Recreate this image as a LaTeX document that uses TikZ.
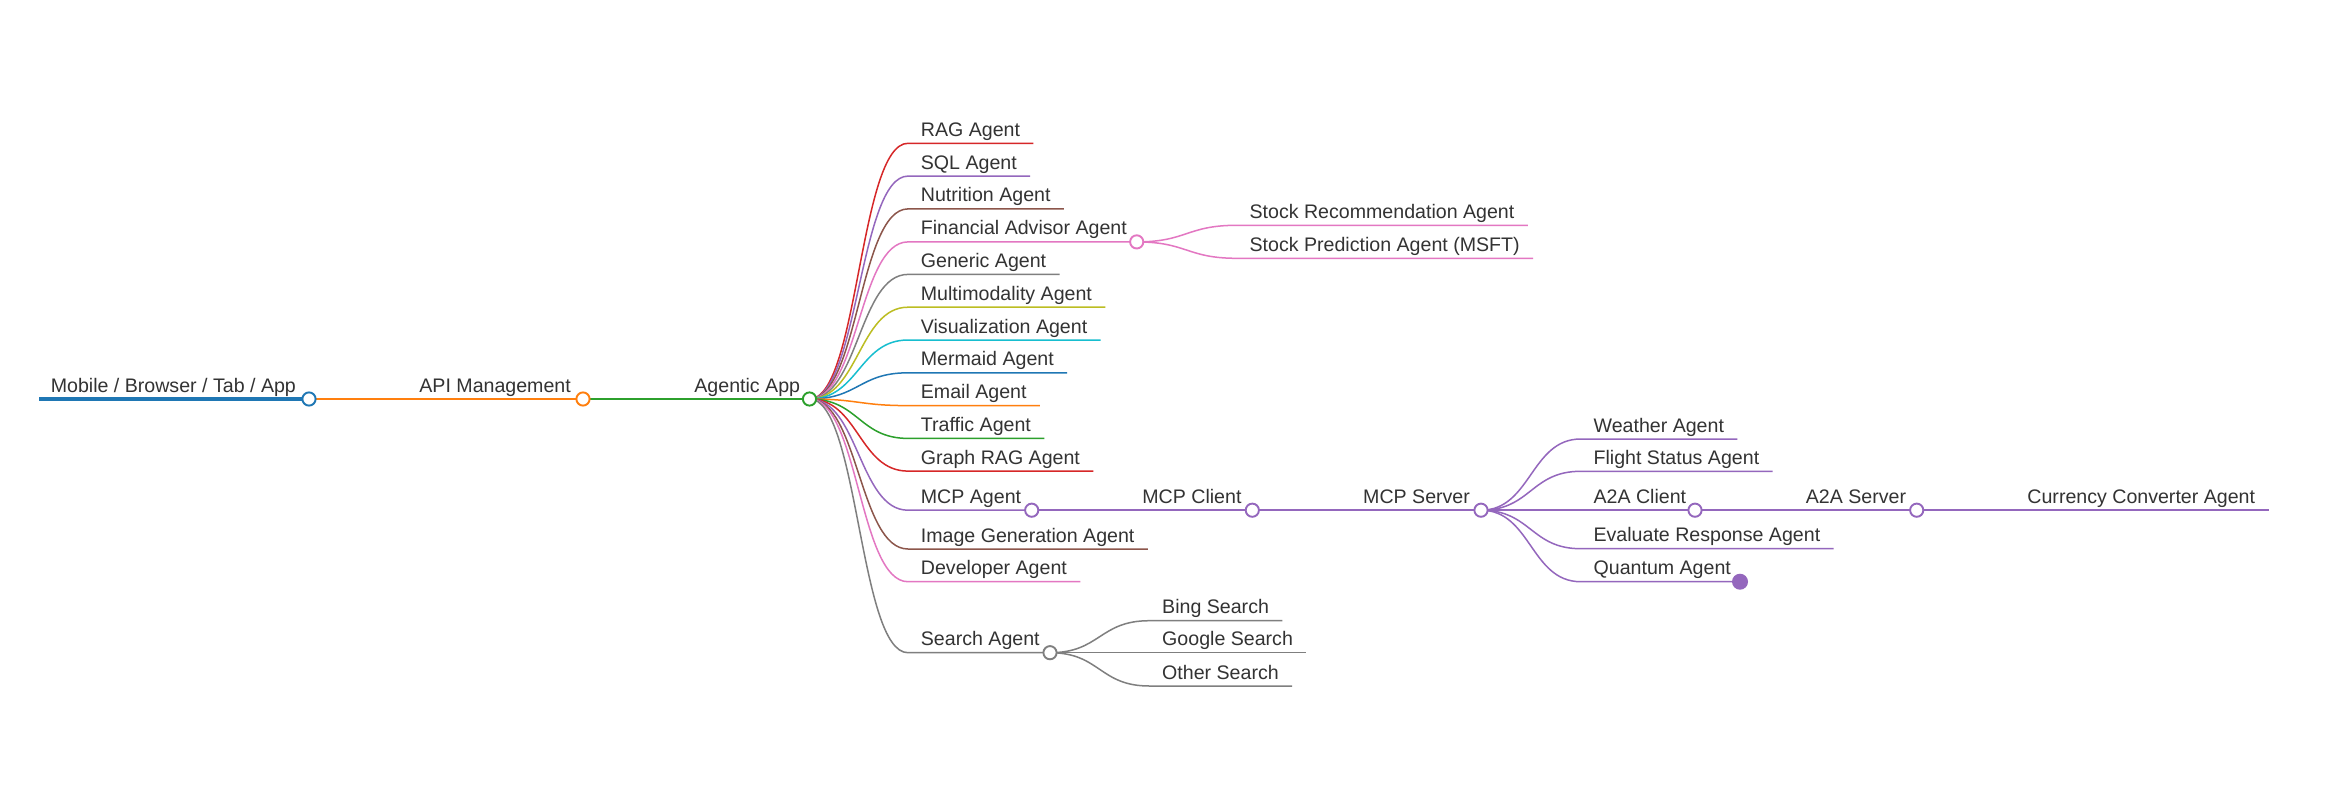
\documentclass[tikz,border=0pt]{standalone}
\usepackage{fontspec}
\setmainfont{Liberation Sans}
\usetikzlibrary{calc}
\pgfdeclarelayer{bg}
\pgfdeclarelayer{paper}
\pgfsetlayers{paper,bg,main}
\definecolor{cblue}{HTML}{1F77B4}
\definecolor{corange}{HTML}{FF7F0E}
\definecolor{cgreen}{HTML}{2CA02C}
\definecolor{cred}{HTML}{D62728}
\definecolor{cpurple}{HTML}{9467BD}
\definecolor{cbrown}{HTML}{8C564B}
\definecolor{cpink}{HTML}{E377C2}
\definecolor{cgray}{HTML}{7F7F7F}
\definecolor{colive}{HTML}{BCBD22}
\definecolor{ccyan}{HTML}{17BECF}
\definecolor{txt}{HTML}{333333}
% leaf: name, colour, parent, start x, line y, ctrl, text
\newcommand\kid[7]{%
  \node[lbl] (#1) at ($(#4,#5)+(12.5,-7)$) {#7};
  \begin{pgfonlayer}{bg}
  \draw[br,#2] (#3.center) .. controls +(#6,0) and +(-#6,0) .. (#4,#5) -- ($(#1.base east)+(13,7)$);
  \end{pgfonlayer}}
% hub: name, colour, parent, start x, line y, ctrl, circle x, text
\newcommand\hub[8]{%
  \node[lbl] (#1) at ($(#4,#5)+(12.5,-7)$) {#8};
  \node[knob,draw=#2] (#1c) at (#7,#5) {};
  \begin{pgfonlayer}{bg}
  \draw[br,#2] (#3.center) .. controls +(#6,0) and +(-#6,0) .. (#4,#5) -- (#1c.center);
  \end{pgfonlayer}}
\begin{document}
\begin{tikzpicture}[x=0.5pt,y=-0.5pt,
  lbl/.style={anchor=base west,inner sep=0pt,text=txt,font=\fontsize{9.8pt}{12pt}\selectfont},
  br/.style={line width=0.75pt},
  knob/.style={circle,fill=white,line width=0.95pt,minimum size=6.6pt,inner sep=0pt},
  dot/.style={circle,fill=cpurple,minimum size=8pt,inner sep=0pt}]
\begin{pgfonlayer}{paper}
\fill[white] (0,0) rectangle (2340,793);
\end{pgfonlayer}
\path[use as bounding box] (0,0) rectangle (2340,793);

% root chain
\node[lbl] (mob) at (50.4,392) {Mobile / Browser / Tab / App};
\node[knob,draw=cblue] (mobc) at (309,399) {};
\node[lbl] (api) at (419,392) {API Management};
\node[knob,draw=corange] (apic) at (583,399) {};
\node[lbl] (app) at (694,392) {Agentic App};
\node[knob,draw=cgreen] (appc) at (809.5,399) {};
\begin{pgfonlayer}{bg}
\draw[cblue,line width=1.6pt] ($(mob.base west)+(-11.4,7)$) -- (mobc.center);
\draw[corange,line width=1.2pt] (mobc.center) -- (apic.center);
\draw[cgreen,line width=1pt] (apic.center) -- (appc.center);
\end{pgfonlayer}

% children of Agentic App
\kid{rag}{cred}{appc}{908}{143.3}{49}{RAG Agent}
\kid{sql}{cpurple}{appc}{908}{176.1}{49}{SQL Agent}
\kid{nut}{cbrown}{appc}{908}{208.9}{49}{Nutrition Agent}
\hub{fin}{cpink}{appc}{908}{241.9}{49}{1136.7}{Financial Advisor Agent}
\kid{gen}{cgray}{appc}{908}{274.4}{49}{Generic Agent}
\kid{mul}{colive}{appc}{908}{307.2}{49}{Multimodality Agent}
\kid{vis}{ccyan}{appc}{908}{340}{49}{Visualization Agent}
\kid{mer}{cblue}{appc}{908}{372.8}{49}{Mermaid Agent}
\kid{ema}{corange}{appc}{908}{405.6}{49}{Email Agent}
\kid{tra}{cgreen}{appc}{908}{438.4}{49}{Traffic Agent}
\kid{gra}{cred}{appc}{908}{471.1}{49}{Graph RAG Agent}
\hub{mcp}{cpurple}{appc}{908}{510.2}{49}{1031.7}{MCP Agent}
\kid{img}{cbrown}{appc}{908}{549}{49}{Image Generation Agent}
\kid{dev}{cpink}{appc}{908}{581.7}{49}{Developer Agent}
\hub{sea}{cgray}{appc}{908}{652.7}{49}{1050}{Search Agent}

% Financial Advisor children
\kid{srec}{cpink}{finc}{1236.7}{225.3}{50}{Stock Recommendation Agent}
\kid{spred}{cpink}{finc}{1236.7}{258.3}{50}{Stock Prediction Agent (MSFT)}

% MCP chain
\hub{mcl}{cpurple}{mcpc}{1129.5}{510.2}{0}{1252.3}{MCP Client}
\hub{msv}{cpurple}{mclc}{1350.3}{510.2}{0}{1481}{MCP Server}
\kid{wea}{cpurple}{msvc}{1580.7}{439}{50}{Weather Agent}
\kid{fli}{cpurple}{msvc}{1580.7}{471.3}{50}{Flight Status Agent}
\hub{acl}{cpurple}{msvc}{1580.7}{510.2}{50}{1695}{A2A Client}
\kid{eva}{cpurple}{msvc}{1580.7}{548.7}{50}{Evaluate Response Agent}
\node[lbl] (qua) at ($(1580.7,581.7)+(12.5,-7)$) {Quantum Agent};
\node[dot] (quac) at (1740,581.7) {};
\begin{pgfonlayer}{bg}
\draw[br,cpurple] (msvc.center) .. controls +(50,0) and +(-50,0) .. (1580.7,581.7) -- (quac.center);
\end{pgfonlayer}
\hub{asv}{cpurple}{aclc}{1793}{510.2}{0}{1916.7}{A2A Server}
\kid{cur}{cpurple}{asvc}{2014.5}{510.2}{0}{Currency Converter Agent}

% Search children
\kid{bing}{cgray}{seac}{1149.3}{620.7}{50}{Bing Search}
\kid{goo}{cgray}{seac}{1149.3}{652.7}{50}{Google Search}
\kid{oth}{cgray}{seac}{1149.3}{686}{50}{Other Search}
\end{tikzpicture}
\end{document}
